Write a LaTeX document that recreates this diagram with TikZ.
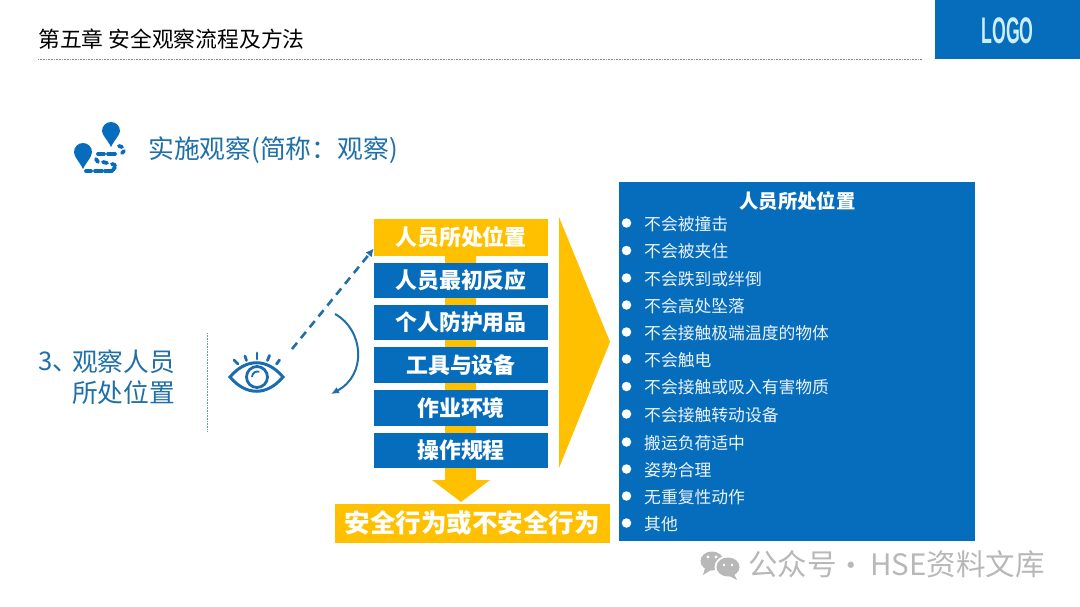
\documentclass[tikz,border=0pt]{standalone}
\usepackage{fontspec}
\setmainfont{Noto Sans CJK SC}
\newfontfamily\logofont{Liberation Sans}
\usetikzlibrary{arrows.meta}
\definecolor{hblue}{HTML}{066DBD}
\definecolor{hyel}{HTML}{FFC000}
\definecolor{htxt}{HTML}{1F6FA8}
\definecolor{eyeb}{HTML}{1A6CAE}
\newcommand{\rowtext}[1]{\raisebox{-1.2pt}{#1}}
\tikzset{
 x=1pt,y=-1pt,
 rowbox/.style={fill=hblue,text=white,minimum width=174pt,anchor=center,inner sep=0pt,font=\fontsize{21.9}{22}\selectfont\bfseries},
 itemtxt/.style={anchor=west,inner sep=0pt,text=white!92!hblue,font=\fontsize{16.8}{17}\selectfont},
 dotb/.style={fill=white,circle,inner sep=0pt,minimum size=9.5pt},
 lefttxt/.style={anchor=west,inner sep=0pt,text=htxt,font=\fontsize{25.7}{26}\selectfont},
 wm/.style={anchor=west,inner sep=0pt,text=black!28,font=\fontsize{29.5}{30}\selectfont}
}
\begin{document}
\begin{tikzpicture}
\useasboundingbox (0,0) rectangle (1080,607);
\fill[white] (0,0) rectangle (1080,607);
% header
\node[anchor=west,inner sep=0pt,font=\fontsize{21.8}{22}\selectfont] (title) at (38,39.5) {第五章 安全观察流程及方法};
\coordinate (hl) at (38,59); \coordinate (hr) at (922,59);
\draw[black!45,line width=.6pt,densely dotted] (hl) -- (hr);
\node[fill=hblue,minimum width=145pt,minimum height=59pt,inner sep=0pt,anchor=north west] (logobox) at (935,0) {};
\node[text=cyan!20,font=\logofont\fontsize{37}{37}\selectfont\bfseries,xscale=.48] (logo) at (1007.5,31) {LOGO};
% pins icon
\fill[hblue] (111,147) .. controls (107,139) and (102,135) .. (102,131) arc (180:360:9) .. controls (120,135) and (115,139) .. (111,147) -- cycle;
\fill[hblue] (83,169) .. controls (79,161) and (74,157) .. (74,152) arc (180:360:9) .. controls (92,157) and (87,161) .. (83,169) -- cycle;
\foreach \a/\b/\c/\d in {119/146/122/147,124/151/122/153,98/154/104/154,108/154/115/154,96/159/98/162,103/162/107/163,112/164/115/165,115/167/113/170,86/171/91/171,95/171/102/171,105/171/112/171}
  \draw[line width=3.8pt,hblue,line cap=round] (\a,\b) -- (\c,\d);
\node[anchor=west,inner sep=0pt,text=htxt,font=\fontsize{25.8}{26}\selectfont] (sec) at (148,150) {实施观察(简称：观察)};
% left label
\node[lefttxt] (l0) at (38,362) {3、};
\node[lefttxt] (l1) at (72,362) {观察人员};
\node[lefttxt] (l2) at (72,393) {所处位置};
\coordinate (v1) at (207.5,333); \coordinate (v2) at (207.5,431);
\draw[htxt!70,line width=.6pt,densely dotted] (v1) -- (v2);
% eye
\draw[eyeb,line width=3pt] (230,377) .. controls (246,358) and (267,358) .. (283,377) .. controls (267,396) and (246,396) .. (230,377) -- cycle;
\draw[eyeb,line width=2.8pt] (257,377) circle (10.5);
\draw[eyeb,line width=1.8pt] (252,377) arc (180:290:5.5);
\draw[eyeb,line width=2.8pt,line cap=round] (234,360) -- (238,364);
\draw[eyeb,line width=2.8pt,line cap=round] (245,356) -- (246.5,360.5);
\draw[eyeb,line width=2.8pt,line cap=round] (257,353) -- (257,359);
\draw[eyeb,line width=2.8pt,line cap=round] (269.5,355.5) -- (267.5,360.5);
\draw[eyeb,line width=2.8pt,line cap=round] (279.5,360) -- (276.5,364);
% connectors
\coordinate (dstart) at (292,349); \coordinate (curveA) at (335,314); \coordinate (curveB) at (331,394);
% central arrow
\fill[hyel] (445,256) -- (476,256) -- (476,480) -- (490,480) -- (461,502) -- (432,480) -- (445,480) -- cycle;
% rows
\node[rowbox,fill=hyel,minimum height=37pt] (r1) at (461,237.5) {\rowtext{人员所处位置}};
\node[rowbox,minimum height=35pt] (r2) at (461,280.5) {\rowtext{人员最初反应}};
\node[rowbox,minimum height=35pt] (r3) at (461,322.5) {\rowtext{个人防护用品}};
\node[rowbox,minimum height=36pt] (r4) at (461,365) {\rowtext{工具与设备}};
\node[rowbox,minimum height=36pt] (r5) at (461,408) {\rowtext{作业环境}};
\node[rowbox,minimum height=35pt] (r6) at (461,450.5) {\rowtext{操作规程}};
\draw[htxt,line width=2.6pt,dash pattern=on 8pt off 6pt,-{Latex[length=8pt,width=8pt]}] (dstart) -- ([yshift=-11pt]r1.west);
\draw[htxt,line width=2pt,-{Latex[length=8pt,width=7pt]}] (curveA) .. controls (364,330) and (367,375) .. (curveB);
% big arrow
\fill[hyel] (559,217) -- (610,342) -- (559,468) -- cycle;
% bottom
\node[fill=hyel,text=white,minimum width=275pt,minimum height=39pt,inner sep=0pt,font=\fontsize{25.5}{26}\selectfont\bfseries] (res) at (472,523) {安全行为或不安全行为};
% panel
\node[fill=hblue,minimum width=356pt,minimum height=359pt,inner sep=0pt,anchor=north west] (panel) at (619,182) {};
\node[text=white,inner sep=0pt,font=\fontsize{19.3}{20}\selectfont\bfseries] (ptitle) at (797.5,201) {人员所处位置};
\foreach \n/\y/\t in {a/224/不会被撞击,b/251.5/不会被夹住,c/279/不会跌到或绊倒,d/306/不会高处坠落,e/333/不会接触极端温度的物体,f/360/不会触电,g/387.5/不会接触或吸入有害物质,h/415/不会接触转动设备,i/443/搬运负荷适中,j/470/姿势合理,k/497/无重复性动作,l/524/其他}{
  \node[dotb] (dot\n) at (626.5,\y-1) {};
  \node[itemtxt] (it\n) at (644,\y) {\t};
}
% watermark
\fill[black!28] (712,561) ellipse (11.5 and 9.5);
\fill[black!28] (705,568) -- (703,575) -- (711,570) -- cycle;
\fill[white] (728,567) ellipse (13.5 and 11.5);
\fill[black!28] (728,567) ellipse (11.5 and 9.5);
\fill[black!28] (734,574) -- (737,580) -- (729,576) -- cycle;
\fill[white] (708,557) circle (1.6); \fill[white] (716,557) circle (1.6);
\fill[white] (724,565) circle (1.4); \fill[white] (732,565) circle (1.4);
\node[wm] (wmt) at (748,564) {公众号};
\node[wm,anchor=center] (wmd) at (851,569) {·};
\node[wm] (wmh) at (870,564) {HSE资料文库};
\end{tikzpicture}
\end{document}
